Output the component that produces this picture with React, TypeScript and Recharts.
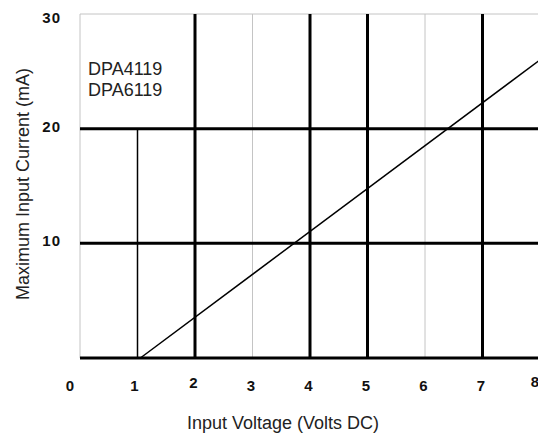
import React from 'react';
import { LineChart, Line, XAxis, YAxis, ReferenceLine } from 'recharts';

// values
const xTicks = [0, 1, 2, 3, 4, 5, 6, 7, 8];
const yTicks = [10, 20, 30];
const currentLine = [
  { volts: 1.05, mA: 0 },
  { volts: 8, mA: 26 },
];
const majorX = [2, 4, 5, 7];
const minorX = [3, 6];
const majorY = [0, 10, 20];
const partNames = ['DPA4119', 'DPA6119'];

const FONT = '"Liberation Sans", Arial, sans-serif';

// small nudges so the tick text sits where the original put it
const xNudge: Record<number, number> = { 0: -10, 1: -3, 8: -5 };
const xLift: Record<number, number> = { 2: -3, 8: -4 };
const yShift: Record<number, number> = { 30: 4, 20: -2, 10: -3 };

const XTick = (props: any) => {
  const { x, payload } = props;
  const v = payload.value;
  return (
    <text
      x={x + (xNudge[v] ?? -1.5)}
      y={391 + (xLift[v] ?? 0)}
      textAnchor="middle"
      fontFamily={FONT}
      fontWeight="bold"
      fontSize={15}
      fill="#111"
    >
      {v}
    </text>
  );
};

const YTick = (props: any) => {
  const { y, payload } = props;
  const v = payload.value;
  return (
    <text
      x={61}
      y={y + (yShift[v] ?? 0) + 5.3}
      textAnchor="end"
      fontFamily={FONT}
      fontWeight="bold"
      fontSize={15}
      letterSpacing={1}
      fill="#111"
    >
      {v}
    </text>
  );
};

export default function App() {
  return (
    <div style={{ position: 'absolute', left: 0, top: 0, width: 538, height: 440, overflow: 'hidden', background: '#fff' }}>
      <LineChart
        width={540}
        height={440}
        data={currentLine}
        margin={{ top: 14, right: 0, left: 0, bottom: 0 }}
      >
        <XAxis
          type="number"
          dataKey="volts"
          domain={[0, 8]}
          ticks={xTicks}
          height={82}
          axisLine={false}
          tickLine={false}
          tick={<XTick />}
          interval={0}
          label={{
            content: () => (
              <text x={283} y={429} textAnchor="middle" fontFamily={FONT} fontSize={18} fill="#222">
                Input Voltage (Volts DC)
              </text>
            ),
          }}
        />
        <YAxis
          type="number"
          domain={[0, 30]}
          ticks={yTicks}
          width={80}
          axisLine={false}
          tickLine={false}
          tick={<YTick />}
          interval={0}
          label={{
            content: () => (
              <text
                x={29}
                y={184}
                textAnchor="middle"
                transform="rotate(-90 29 184)"
                fontFamily={FONT}
                fontSize={18}
                fill="#222"
              >
                Maximum Input Current (mA)
              </text>
            ),
          }}
        />
        {/* light frame on top and left */}
        <ReferenceLine y={30} stroke="#c4c4c4" strokeWidth={1} />
        <ReferenceLine x={0} stroke="#c4c4c4" strokeWidth={1} />
        {minorX.map((v) => (
          <ReferenceLine key={`mx-${v}`} x={v} stroke="#c4c4c4" strokeWidth={1} />
        ))}
        {majorX.map((v) => (
          <ReferenceLine key={`MX-${v}`} x={v} stroke="#000" strokeWidth={3} />
        ))}
        {majorY.map((v) => (
          <ReferenceLine key={`MY-${v}`} y={v} stroke="#000" strokeWidth={3} />
        ))}
        <ReferenceLine
          segment={[
            { x: 1, y: 0 },
            { x: 1, y: 20 },
          ]}
          stroke="#000"
          strokeWidth={1.5}
        />
        <Line
          type="linear"
          dataKey="mA"
          stroke="#000"
          strokeWidth={1.5}
          dot={false}
          isAnimationActive={false}
        />
      </LineChart>
      <div
        style={{
          position: 'absolute',
          left: 88,
          top: 59,
          fontFamily: FONT,
          fontSize: 18,
          lineHeight: '21px',
          color: '#222',
        }}
      >
        {partNames.map((n) => (
          <div key={n}>{n}</div>
        ))}
      </div>
    </div>
  );
}
